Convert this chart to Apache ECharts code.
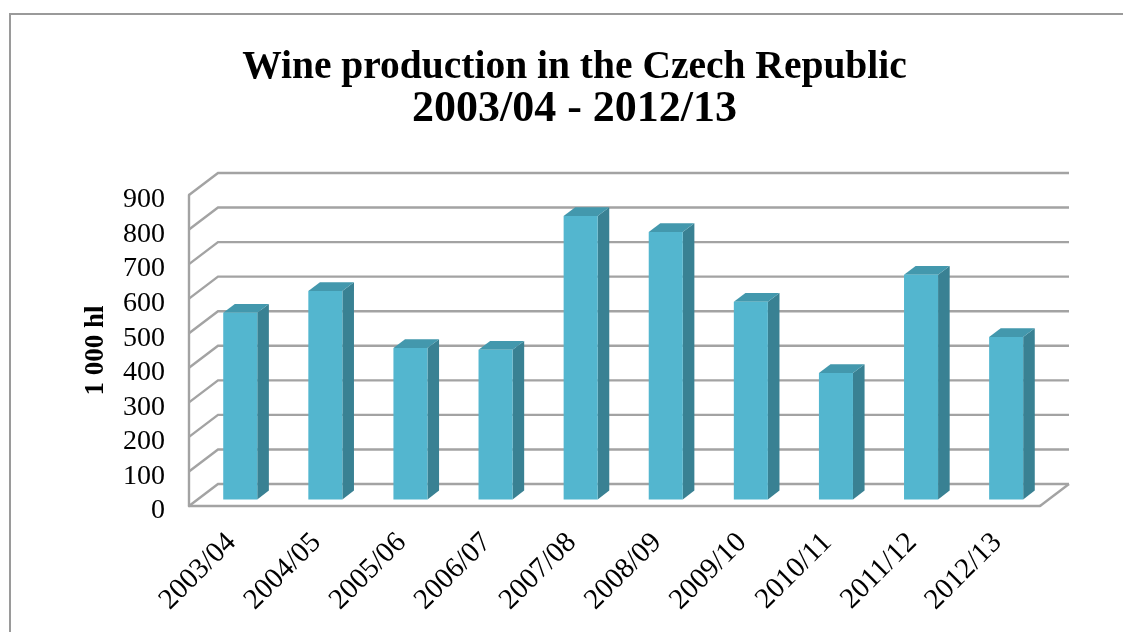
<!DOCTYPE html>
<html><head><meta charset="utf-8">
<style>html,body{margin:0;padding:0;background:#fff}#c{width:1123px;height:632px}</style>
<script src="https://cdn.jsdelivr.net/npm/echarts@6/dist/echarts.min.js"></script>
</head><body><div id="c"></div>
<script>
const categories = ['2003/04','2004/05','2005/06','2006/07','2007/08','2008/09','2009/10','2010/11','2011/12','2012/13'];
const production = [540,603,438,433,820,774,572,366,650,470];
const gridValues = [0,100,200,300,400,500,600,700,800,900];
const titleLine1 = 'Wine production in the Czech Republic';
const titleLine2 = '2003/04 - 2012/13';
const axisName = '1 000 hl';

const DX = 29, DY = 22;
const FONT = '"Liberation Serif"';
const GRID = '#a3a3a3';
const chart = echarts.init(document.getElementById('c'), null, {renderer:'canvas'});

function wall(params, api) {
  const cs = params.coordSys;
  const p = api.coord([0, api.value(0)]);
  const y = p[1];
  const style = {stroke: GRID, lineWidth: 2.4, fill: null};
  const children = [
    {type:'polyline', shape:{points:[[cs.x,y],[cs.x+DX,y-DY],[cs.x+cs.width+DX,y-DY]]}, style}
  ];
  if (api.value(0) === 0) {
    children.push({type:'line', shape:{x1:cs.x+cs.width,y1:y,x2:cs.x+cs.width+DX,y2:y-DY}, style});
  }
  return {type:'group', children};
}
function bar(params, api) {
  const i = api.value(0), v = api.value(1);
  const c = api.coord([i, v]), b = api.coord([i, 0]);
  const w = api.size([1, 0])[0] * 0.4;
  const ox = DX * 0.3, oy = DY * 0.3;
  const dx = DX * 0.4, dy = DY * 0.4;
  const l = c[0] - w/2 + ox, r = l + w, t = c[1] - oy, bt = b[1] - oy;
  return {type:'group', children:[
    {type:'polygon', shape:{points:[[r,t],[r+dx,t-dy],[r+dx,bt-dy],[r,bt]]}, style:{fill:'#398193'}},
    {type:'polygon', shape:{points:[[l,t],[l+dx,t-dy],[r+dx,t-dy],[r,t]]}, style:{fill:'#4398ad'}},
    {type:'rect', shape:{x:l,y:t,width:w,height:bt-t}, style:{fill:'#53b6cf'}}
  ]};
}
chart.setOption({
  animation:false,
  backgroundColor:'#fff',
  title:{text:'{a|'+titleLine1+'}\n{b|'+titleLine2+'}',left:569.5,top:42,textAlign:'center',
    textStyle:{rich:{
      a:{fontFamily:FONT,fontWeight:'bold',fontSize:39.5,lineHeight:42,color:'#000',align:'center'},
      b:{fontFamily:FONT,fontWeight:'bold',fontSize:44,lineHeight:42,color:'#000',align:'center'}}}},
  grid:{left:189,top:195,width:851,height:311},
  xAxis:{type:'category',data:categories,
    axisLine:{lineStyle:{color:GRID,width:2.4}},axisTick:{show:false},
    axisLabel:{rotate:45,interval:0,margin:32,fontFamily:FONT,fontSize:29,color:'#000'}},
  yAxis:{type:'value',min:0,max:900,interval:100,
    name:axisName,nameLocation:'middle',nameGap:79,nameRotate:90,
    nameTextStyle:{fontFamily:FONT,fontWeight:'bold',fontSize:27,color:'#000'},
    axisLine:{show:true,lineStyle:{color:GRID,width:2.4}},axisTick:{show:false},splitLine:{show:false},
    axisLabel:{margin:24,verticalAlign:'top',lineHeight:10,fontFamily:FONT,fontSize:28,color:'#000'}},
  series:[
    {type:'custom',coordinateSystem:'cartesian2d',renderItem:wall,z:1,silent:true,
      data:gridValues.map(v=>[v]),encode:{x:[],y:0}},
    {type:'custom',coordinateSystem:'cartesian2d',renderItem:bar,z:2,silent:true,
      data:production.map((v,i)=>[i,v]),encode:{x:0,y:1}}
  ],
  graphic:[
    {type:'polyline',silent:true,shape:{points:[[10,632],[10,14],[1123,14]]},style:{stroke:'#9a9a9a',lineWidth:2,fill:null}}
  ]
});
</script></body></html>
